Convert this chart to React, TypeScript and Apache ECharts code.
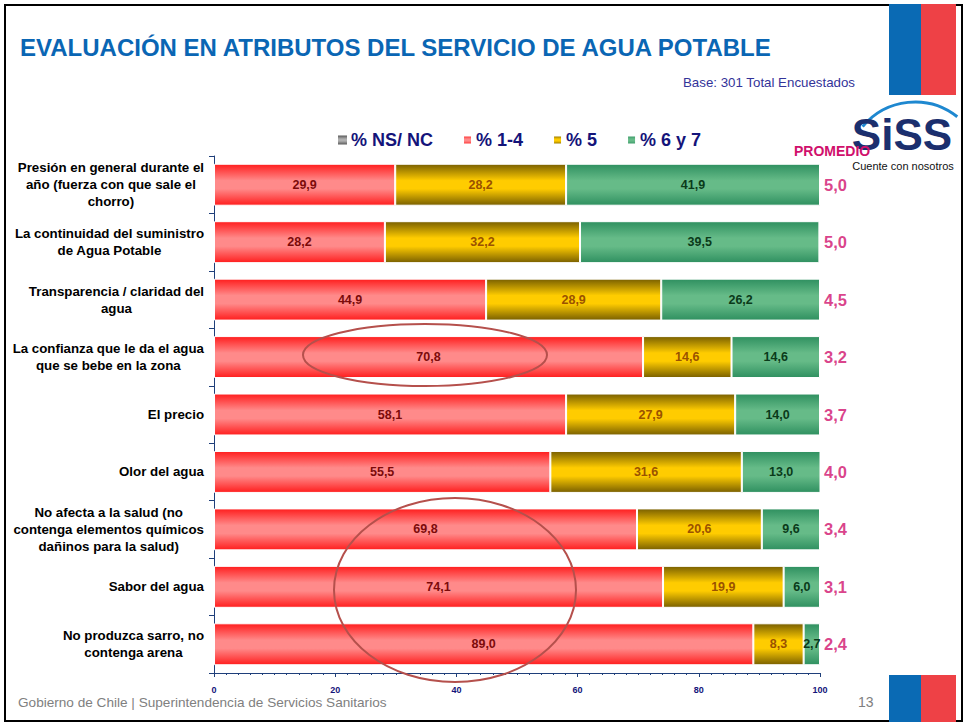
import React, { useEffect, useRef } from "react";
import * as echarts from "echarts";

const categories = [
  "Presión en general durante el\naño (fuerza con que sale el\nchorro)",
  "La continuidad del suministro\nde Agua Potable",
  "Transparencia / claridad del\nagua",
  "La confianza que le da el agua\nque se bebe en la zona",
  "El precio",
  "Olor del agua",
  "No afecta a la salud (no\ncontenga elementos químicos\ndañinos para la salud)",
  "Sabor del agua",
  "No produzca sarro, no\ncontenga arena",
];
const nsnc = [0, 0, 0, 0, 0, 0, 0, 0, 0];
const r14 = [29.9, 28.2, 44.9, 70.8, 58.1, 55.5, 69.8, 74.1, 89.0];
const r5 = [28.2, 32.2, 28.9, 14.6, 27.9, 31.6, 20.6, 19.9, 8.3];
const r67 = [41.9, 39.5, 26.2, 14.6, 14.0, 13.0, 9.6, 6.0, 2.7];
const promedio = [5.0, 5.0, 4.5, 3.2, 3.7, 4.0, 3.4, 3.1, 2.4];
const xTicks = [0, 20, 40, 60, 80, 100];

const FONT = "'Liberation Sans', Arial, sans-serif";
const fmt = (v: number) => v.toFixed(1).replace(".", ",");

const grad = (edge: string, mid: string) =>
  new echarts.graphic.LinearGradient(0, 0, 0, 1, [
    { offset: 0, color: edge },
    { offset: 0.4, color: mid },
    { offset: 0.6, color: mid },
    { offset: 1, color: edge },
  ]);

export default function App() {
  const ref = useRef<HTMLDivElement>(null);
  useEffect(() => {
    if (!ref.current) return;
    const chart = echarts.init(ref.current, null, { renderer: "svg" });
    const segLabel = (color: string) => ({
      show: true,
      position: "inside",
      color,
      fontSize: 12.5,
      fontWeight: "bold",
      fontFamily: FONT,
      formatter: (p: any) => fmt(p.value),
    });
    chart.setOption({
      animation: false,
      backgroundColor: "#ffffff",
      grid: { left: 214, right: 148, top: 156, bottom: 50, containLabel: false },
      legend: {
        data: ["% NS/ NC", "% 1-4", "% 5", "% 6 y 7"],
        left: 333,
        top: 126,
        itemWidth: 9,
        itemHeight: 9,
        itemGap: 29,
        icon: "rect",
        textStyle: { color: "#14147a", fontSize: 18, fontWeight: "bold", fontFamily: FONT, padding: [0, 0, 0, -1] },
      },
      xAxis: {
        type: "value",
        min: 0,
        max: 100,
        interval: 20,
        splitLine: { show: false },
        axisLine: { show: true, lineStyle: { color: "#1f3f7a", width: 1 } },
        axisTick: { show: true, length: 4, lineStyle: { color: "#1f3f7a" } },
        minorTick: { show: true, splitNumber: 10, length: 2, lineStyle: { color: "#1f3f7a" } },
        axisLabel: {
          color: "#14147a",
          fontSize: 9,
          fontWeight: "bold",
          fontFamily: FONT,
          margin: 12,
          formatter: (v: number) => (xTicks.includes(v) ? String(v) : ""),
        },
      },
      yAxis: {
        type: "category",
        inverse: true,
        data: categories,
        axisLine: { show: true, lineStyle: { color: "#1f3f7a", width: 1 } },
        axisTick: { show: true, length: 5, lineStyle: { color: "#1f3f7a" } },
        axisLabel: {
          margin: 10,
          align: "right",
          formatter: (v: string) => v.split("\n").map((l) => `{c|${l}}`).join("\n"),
          rich: {
            c: { align: "center", fontSize: 13.3, fontWeight: "bold", fontFamily: FONT, color: "#000", lineHeight: 17 },
          },
        },
      },
      series: [
        {
          name: "% NS/ NC",
          type: "bar",
          stack: "total",
          barCategoryGap: "27%",
          data: nsnc,
          itemStyle: { color: grad("#5a5a5a", "#b0b0b0") },
          label: { show: false },
        },
        {
          name: "% 1-4",
          type: "bar",
          stack: "total",
          barCategoryGap: "27%",
          data: r14,
          itemStyle: { color: grad("#ff1e1e", "#ff8a8a"), borderColor: "#ffffff", borderWidth: 1 },
          label: segLabel("#7c0a0a"),
        },
        {
          name: "% 5",
          type: "bar",
          stack: "total",
          barCategoryGap: "27%",
          data: r5,
          itemStyle: { color: grad("#7a6000", "#ffcc00"), borderColor: "#ffffff", borderWidth: 1 },
          label: segLabel("#9a5200"),
        },
        {
          name: "% 6 y 7",
          type: "bar",
          stack: "total",
          barCategoryGap: "27%",
          data: r67,
          itemStyle: { color: grad("#2f9060", "#66bb88"), borderColor: "#ffffff", borderWidth: 1 },
          label: segLabel("#0a3a1a"),
        },
        {
          name: "Promedio",
          type: "scatter",
          symbolSize: 0,
          data: promedio.map((_, i) => [100, i]),
          label: {
            show: true,
            position: "right",
            distance: 4,
            color: "#d0106c",
            fontSize: 16.5,
            fontWeight: "bold",
            fontFamily: FONT,
            formatter: (p: any) => fmt(promedio[p.dataIndex]),
          },
        },
      ],
      graphic: [
        { type: "rect", shape: { x: 5, y: 5, width: 957, height: 716 }, style: { fill: "none", stroke: "#000", lineWidth: 2 }, z: 10 },
        { type: "rect", shape: { x: 889, y: 4, width: 32, height: 91 }, style: { fill: "#0a6ab4" }, z: 11 },
        { type: "rect", shape: { x: 921, y: 4, width: 35, height: 91 }, style: { fill: "#ee4146" }, z: 11 },
        { type: "rect", shape: { x: 889, y: 675, width: 32, height: 47 }, style: { fill: "#0a6ab4" }, z: 11 },
        { type: "rect", shape: { x: 921, y: 675, width: 35, height: 47 }, style: { fill: "#ee4146" }, z: 11 },
        {
          type: "text",
          x: 20,
          y: 47,
          style: { text: "EVALUACIÓN EN ATRIBUTOS DEL SERVICIO DE AGUA POTABLE", fill: "#0a66b4", fontSize: 24, fontWeight: "bold", fontFamily: FONT, verticalAlign: "middle" },
        },
        {
          type: "text",
          x: 855,
          y: 82,
          style: { text: "Base: 301 Total Encuestados", fill: "#333399", fontSize: 13.3, fontFamily: FONT, align: "right", verticalAlign: "middle" },
        },
        {
          type: "arc",
          shape: { cx: 915, cy: 170, r: 68, startAngle: -2.45, endAngle: -0.9, clockwise: true },
          style: { stroke: "#1e88d0", lineWidth: 3, fill: "none" },
        },
        {
          type: "text",
          x: 902,
          y: 134,
          style: { text: "SiSS", fill: "#1b2f6e", fontSize: 44, fontWeight: "bold", fontFamily: FONT, align: "center", verticalAlign: "middle", lineHeight: 36 },
        },
        {
          type: "text",
          x: 903,
          y: 166,
          style: { text: "Cuente con nosotros", fill: "#111", fontSize: 11, fontFamily: FONT, align: "center", verticalAlign: "middle" },
        },
        {
          type: "text",
          x: 794,
          y: 151,
          z: 20,
          style: { text: "PROMEDIO", fill: "#d0106c", fontSize: 14, fontWeight: "bold", fontFamily: FONT, verticalAlign: "middle" },
        },
        {
          type: "ellipse",
          shape: { cx: 425, cy: 355, rx: 122, ry: 31 },
          style: { fill: "none", stroke: "#b5504c", lineWidth: 2 },
          z: 20,
        },
        {
          type: "ellipse",
          shape: { cx: 455, cy: 590, rx: 121, ry: 92 },
          style: { fill: "none", stroke: "#b5504c", lineWidth: 2 },
          z: 20,
        },
        {
          type: "text",
          x: 18,
          y: 702,
          style: { text: "Gobierno de Chile | Superintendencia de Servicios Sanitarios", fill: "#808080", fontSize: 13.6, fontFamily: FONT, verticalAlign: "middle" },
        },
        {
          type: "text",
          x: 858,
          y: 702,
          style: { text: "13", fill: "#808080", fontSize: 14, fontFamily: FONT, verticalAlign: "middle" },
        },
      ],
    });
    return () => chart.dispose();
  }, []);
  return <div ref={ref} style={{ position: "absolute", left: 0, top: 0, width: 968, height: 723 }} />;
}
